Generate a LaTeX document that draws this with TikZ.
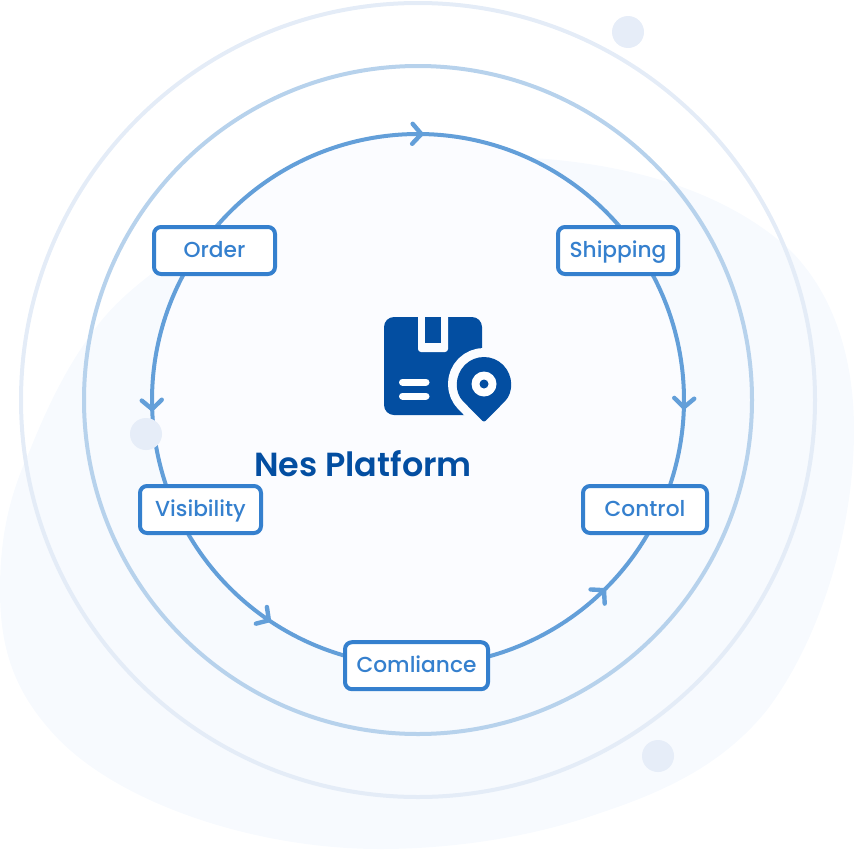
\documentclass[tikz,border=0pt]{standalone}
\usepackage{fontspec}
\setmainfont{Poppins}
\newfontfamily\boldish{Poppins Medium}
\newfontfamily\heavier{Poppins SemiBold}
\usetikzlibrary{arrows.meta,decorations.markings,calc}
\definecolor{iconblue}{HTML}{034EA1}
\definecolor{boxblue}{HTML}{3580CE}
\definecolor{ringblue}{HTML}{639FD9}
\definecolor{midblue}{HTML}{B7D2EC}
\definecolor{outerblue}{HTML}{E4ECF7}
\definecolor{dotblue}{HTML}{E6EDF8}
\definecolor{blobblue}{HTML}{F7FAFE}
\definecolor{innerfill}{HTML}{FBFCFF}
\tikzset{
  x=1pt,y=1pt,
  stagebox/.style={draw=boxblue,line width=4pt,rounded corners=7pt,fill=white,text=boxblue,
    minimum height=47pt,inner sep=0pt,text height=14pt,text depth=0pt,font=\boldish\fontsize{21.7}{24}\selectfont},
  conn/.style={ringblue,line width=4pt,postaction={decorate,decoration={markings,
    mark=at position #1 with {\arrow[line width=4.4pt,ringblue]{Straight Barb[length=9pt,width=20pt,line cap=round]}}}}},
  dotc/.style={circle,fill=dotblue,inner sep=0pt,minimum size=32pt},
}
\begin{document}
\begin{tikzpicture}
\useasboundingbox (0,0) rectangle (854,-849);
% background blob
\fill[blobblue] (0,-590) .. controls (0,-530) and (12,-490) .. (30,-450)
  .. controls (48,-405) and (68,-365) .. (92,-333)
  .. controls (108,-310) and (128,-292) .. (150,-275)
  .. controls (260,-175) and (420,-150) .. (533,-158)
  .. controls (640,-165) and (730,-195) .. (790,-250)
  .. controls (835,-295) and (854,-360) .. (854,-430)
  .. controls (854,-530) and (820,-640) .. (767,-710)
  .. controls (725,-762) and (670,-790) .. (600,-813)
  .. controls (530,-838) and (450,-849) .. (380,-849)
  .. controls (250,-849) and (110,-800) .. (50,-730)
  .. controls (15,-690) and (0,-650) .. (0,-590) -- cycle;
\coordinate (centre) at (418,-400);
% rings
\node[circle,draw=outerblue,line width=4pt,inner sep=0pt,minimum size=794pt] (outerring) at (centre) {};
\node[circle,draw=midblue,line width=4pt,inner sep=0pt,minimum size=668pt] (midring) at (centre) {};
\node[circle,fill=innerfill,inner sep=0pt,minimum size=532pt] (innerring) at (centre) {};
% points where the cycle passes under each box
\coordinate (pOrder) at ($(centre)+(145.5:266)$);
\coordinate (pShipping) at ($(centre)+(34:266)$);
\coordinate (pControl) at ($(centre)+(-24.4:266)$);
\coordinate (pComliance) at ($(centre)+(270:266)$);
\coordinate (pVisibility) at ($(centre)+(204.4:266)$);
% connectors
\draw[conn=0.51] (pOrder) arc[start angle=145.5,end angle=34,radius=266pt];
\draw[conn=0.62] (pShipping) arc[start angle=34,end angle=-24.4,radius=266pt];
\draw[conn=0.63] (pOrder) arc[start angle=145.5,end angle=204.4,radius=266pt];
\draw[conn=0.49] (pVisibility) arc[start angle=204.4,end angle=270,radius=266pt];
\draw[conn=0.686] (pComliance) arc[start angle=270,end angle=335.6,radius=266pt];
% decorative dots
\node[dotc] (dotA) at (628,-32) {};
\node[dotc] (dotB) at (146,-434) {};
\node[dotc] (dotC) at (658,-756) {};
% boxes
\node[stagebox,minimum width=121pt] (order) at (214.5,-250.5) {Order};
\node[stagebox,minimum width=120pt] (shipping) at (618,-250.5) {Shipping};
\node[stagebox,minimum width=124pt] (control) at (645,-509.5) {Control};
\node[stagebox,minimum width=121pt] (visibility) at (200.5,-509.5) {Visibility};
\node[stagebox,minimum width=143pt] (comliance) at (416.5,-665.7) {Comliance};
% icon
\fill[iconblue,rounded corners=10pt] (384,-317) rectangle (482,-415);
\fill[innerfill,rounded corners=3pt] (418,-310) -- (418,-352) -- (448,-352) -- (448,-310) -- cycle;
\fill[innerfill] (418,-310) rectangle (448,-317);
\fill[iconblue] (425,-317) rectangle (441,-343);
\draw[white,line width=7pt,line cap=round] (402.5,-382) -- (426,-382);
\draw[white,line width=7pt,line cap=round] (402.5,-396) -- (426,-396);
\fill[innerfill] (482.5,-418) rectangle (470,-416);
\draw[innerfill,line width=18pt,line join=round,fill=innerfill]
  (464.9,-403.1) arc[start angle=225,end angle=-45,radius=27pt] -- (484,-422.5) -- cycle;
\fill[iconblue,rounded corners=2.5pt]
  (464.9,-403.1) arc[start angle=225,end angle=-45,radius=27pt] -- (484,-422.5) -- cycle;
\fill[white] (484,-384) circle[radius=12.5pt];
\fill[iconblue] (484,-384) circle[radius=4.5pt];
% title
\node[text=iconblue,font=\heavier\fontsize{33.4}{38}\selectfont,inner sep=0pt] (title) at (363,-464) {Nes Platform};
\end{tikzpicture}
\end{document}
